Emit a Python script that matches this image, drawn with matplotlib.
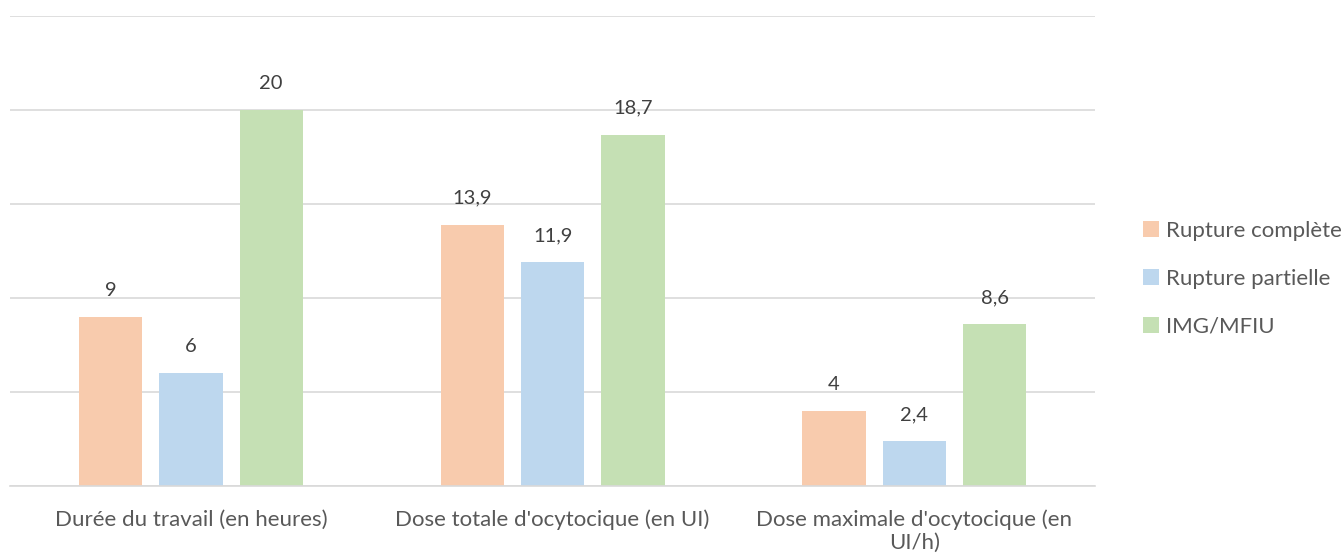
import matplotlib.pyplot as plt
import numpy as np

plt.rcParams['font.family'] = ['Lato', 'DejaVu Sans']

categories = ["Durée du travail (en heures)",
              "Dose totale d'ocytocique (en UI)",
              "Dose maximale d'ocytocique (en\nUI/h)"]
series_names = ["Rupture complète", "Rupture partielle", "IMG/MFIU"]
rupture_complete = [9, 13.9, 4]
rupture_partielle = [6, 11.9, 2.4]
img_mfiu = [20, 18.7, 8.6]
colors = ["#F8CBAD", "#BDD7EE", "#C5E0B4"]

fig = plt.figure(figsize=(13.42, 5.55), dpi=100)
ax = fig.add_axes([0.0075, 0.1243, 0.8085, 0.8467])

x = np.arange(len(categories))
width = 0.175
step = 0.222
all_series = [rupture_complete, rupture_partielle, img_mfiu]
for i, (vals, name, col) in enumerate(zip(all_series, series_names, colors)):
    bars = ax.bar(x + (i - 1) * step, vals, width=width, color=col, label=name, zorder=2)
    for b, v in zip(bars, vals):
        txt = ("%g" % v).replace(".", ",")
        ax.annotate(txt, (b.get_x() + b.get_width() / 2, v), xytext=(0, 19),
                    textcoords="offset points", ha="center", va="center",
                    fontsize=14.5, color="#404040")

ax.set_xlim(-0.5, 2.5)
ax.set_ylim(0, 25)
ax.set_yticks(np.arange(0, 26, 5))
ax.yaxis.grid(True, color="#d9d9d9", linewidth=1.2, zorder=0)
ax.set_yticklabels([])
ax.tick_params(axis="y", length=0)
ax.set_xticks(x)
ax.set_xticklabels(categories, fontsize=16, color="#595959", linespacing=1.15)
ax.tick_params(axis="x", length=0, pad=17)
for s in ["top", "right", "left"]:
    ax.spines[s].set_visible(False)
ax.spines["bottom"].set_color("#d9d9d9")
ax.spines["bottom"].set_linewidth(1.2)

ax.legend(loc="center left", bbox_to_anchor=(1.044, 0.441), frameon=False,
          borderaxespad=0, borderpad=0,
          fontsize=16, labelcolor="#595959", handlelength=0.75, handleheight=0.7,
          handletextpad=0.3, labelspacing=1.25)

fig.savefig("out.png", dpi=100)
